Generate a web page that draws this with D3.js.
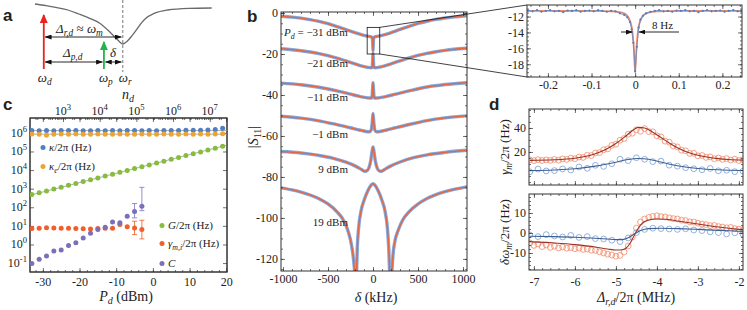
<!DOCTYPE html>
<html>
<head>
<meta charset="utf-8">
<script src="https://cdn.jsdelivr.net/npm/d3@7"></script>
<style>
body { margin: 0; background: #fff; }
svg text { font-family: "Liberation Serif", "DejaVu Serif", serif; fill: #222; }
.plbl { font-family: "Liberation Sans", Arial, sans-serif !important; font-weight: bold; font-size: 17px; }
</style>
</head>
<body>
<svg id="fig" width="747" height="310"></svg>
<script>
// ---------------- data ----------------
// a: schematic cavity dip (offset in linewidths, normalised depth)
var dipOffset = [-4, -3.5, -3, -2.5, -2, -1.5, -1.05, -0.59, -0.23, 0, 0.2, 0.45, 1.0, 1.45, 2.05, 3.0, 4.05];
var dipDepth  = [0, 0.04, 0.09, 0.15, 0.25, 0.36, 0.48, 0.7, 0.9, 1, 0.93, 0.77, 0.38, 0.23, 0.15, 0.11, 0.1];
var toneD = -3.6, toneP = -0.86, toneR = 0;

// b: |S11| traces (delta kHz, dB), offset per drive power
var pdLabels = ["\u221221 dBm", "\u221211 dBm", "\u22121 dBm", "9 dBm", "19 dBm"];
var tr31 = [[-1022,-1.6],[-900,-2.0],[-800,-2.5],[-700,-3.2],[-600,-4.1],[-500,-5.2],[-400,-6.6],[-300,-8.1],[-200,-9.6],[-120,-10.7],[-60,-11.3],[-20,-11.6],[-8,-12.2],[-4,-14],[0,-18.5],[4,-14],[8,-12.2],[20,-11.6],[60,-11.3],[120,-10.7],[200,-9.6],[300,-8.0],[400,-6.5],[500,-5.1],[600,-4.0],[700,-3.1],[800,-2.4],[900,-1.9],[1044,-1.3]];
var tr21 = [[-1022,-17.4],[-900,-17.9],[-800,-18.4],[-700,-19.0],[-600,-19.8],[-500,-20.8],[-400,-22.0],[-300,-23.4],[-200,-24.8],[-120,-25.9],[-60,-26.5],[-20,-26.7],[-8,-26],[-4,-23],[0,-19.5],[4,-23],[8,-26],[20,-26.7],[60,-26.5],[120,-25.9],[200,-24.8],[300,-23.3],[400,-21.9],[500,-20.7],[600,-19.7],[700,-18.9],[800,-18.2],[900,-17.7],[1044,-17.2]];
var tr11 = [[-1022,-34.2],[-800,-35.0],[-600,-36.2],[-400,-38.0],[-250,-39.6],[-150,-40.7],[-60,-41.4],[-20,-41.5],[-10,-40.5],[-5,-37],[0,-34],[5,-37],[10,-40.5],[20,-41.5],[60,-41.4],[150,-40.7],[250,-39.6],[400,-38.0],[600,-36.1],[800,-34.9],[1044,-34.0]];
var tr1 = [[-1022,-50.4],[-800,-51.3],[-600,-52.6],[-400,-54.5],[-250,-56.0],[-150,-57.1],[-80,-57.8],[-40,-58.0],[-20,-57],[-10,-54],[0,-49],[10,-54],[20,-57],[40,-58.0],[80,-57.8],[150,-57.1],[250,-56.0],[400,-54.4],[600,-52.5],[800,-51.2],[1044,-50.2]];
var tr9 = [[-1022,-67.6],[-800,-68.3],[-600,-69.5],[-450,-70.8],[-300,-72.8],[-200,-74.6],[-130,-76.3],[-95,-77.2],[-70,-77.0],[-45,-75.5],[-25,-72],[-10,-67.5],[0,-65.3],[10,-67.5],[25,-72],[45,-75.5],[70,-77.0],[95,-77.2],[130,-76.3],[200,-74.6],[300,-72.7],[450,-70.6],[600,-69.2],[800,-68.0],[1044,-67.0]];
var tr19 = [[-1022,-85.3],[-900,-86.3],[-800,-87.4],[-700,-88.8],[-600,-90.6],[-500,-93.2],[-400,-97.0],[-330,-101],[-280,-106],[-240,-113],[-215,-121],[-200,-130],[-195,-140],[-185,-130],[-175,-115],[-160,-105],[-130,-96],[-100,-91.5],[-60,-87],[-30,-84.5],[0,-83.3],[30,-84.5],[60,-87],[100,-91.5],[130,-96],[160,-105],[175,-115],[188,-130],[198,-140],[208,-128],[222,-118],[245,-111],[280,-106],[330,-101],[400,-97],[500,-93.2],[600,-90.5],[700,-88.6],[800,-87.2],[900,-86.1],[1044,-84.8]];

// b inset: zoom around delta = 0 (kHz)
var insetFit = [[-0.248,-11.3],[-0.1,-11.3],[-0.05,-11.35],[-0.03,-11.5],[-0.02,-11.8],[-0.012,-12.5],[-0.008,-13.3],[-0.005,-14.6],[-0.003,-16.0],[0,-19.0],[0.003,-16.0],[0.005,-14.6],[0.008,-13.3],[0.012,-12.5],[0.02,-11.8],[0.03,-11.5],[0.05,-11.35],[0.1,-11.3],[0.245,-11.3]];
var insetData = [[-0.245,-11.25],[-0.235,-11.35],[-0.225,-11.2],[-0.215,-11.4],[-0.205,-11.3],[-0.195,-11.2],[-0.185,-11.35],[-0.175,-11.3],[-0.165,-11.45],[-0.155,-11.25],[-0.145,-11.3],[-0.135,-11.2],[-0.125,-11.4],[-0.115,-11.3],[-0.105,-11.25],[-0.095,-11.35],[-0.085,-11.2],[-0.075,-11.3],[-0.065,-11.4],[-0.055,-11.3],[-0.045,-11.35],[-0.035,-11.6],[-0.025,-11.8],[-0.018,-12.1],[-0.012,-12.7],[-0.008,-13.6],[-0.004,-15.3],[0,-18.9],[0.004,-15.8],[0.008,-13.4],[0.012,-12.4],[0.018,-11.9],[0.025,-11.6],[0.035,-11.4],[0.045,-11.3],[0.055,-11.2],[0.065,-11.35],[0.075,-11.3],[0.085,-11.4],[0.095,-11.25],[0.105,-11.3],[0.115,-11.2],[0.125,-11.35],[0.135,-11.3],[0.145,-11.45],[0.155,-11.3],[0.165,-11.2],[0.175,-11.35],[0.185,-11.3],[0.195,-11.25],[0.205,-11.4],[0.215,-11.3],[0.225,-11.2],[0.235,-11.35],[0.243,-11.3]];

// c: fitted parameters vs drive power
var pAll = [-33,-31,-29,-27,-25,-23,-21,-19,-17,-15,-13,-11,-9,-7,-5,-3,-1,1,3,5,7,9,11,13,15,17,19];
var kappa = [1.35e6,1.3e6,1.35e6,1.3e6,1.35e6,1.35e6,1.35e6,1.3e6,1.3e6,1.35e6,1.3e6,1.35e6,1.3e6,1.35e6,1.35e6,1.3e6,1.35e6,1.3e6,1.35e6,1.35e6,1.35e6,1.4e6,1.4e6,1.4e6,1.45e6,1.5e6,1.75e6];
var kappaE = [0.86e6,0.85e6,0.74e6,0.85e6,0.86e6,0.85e6,0.86e6,0.85e6,0.85e6,0.86e6,0.85e6,0.85e6,0.86e6,0.85e6,0.85e6,0.86e6,0.85e6,0.85e6,0.86e6,0.85e6,0.85e6,0.86e6,0.85e6,0.86e6,0.85e6,0.86e6,0.9e6];
var gCoup = [480,600,760,950,1200,1510,1900,2400,3000,3800,4800,6000,7600,9500,12000,15100,19000,24000,30000,38000,48000,60000,76000,95000,120000,151000,190000];
var pLow = [-33,-31,-29,-27,-25,-23,-21,-19,-17,-15,-13,-11,-9,-7,-5,-3];
var coop = [0.096,0.16,0.24,0.44,0.5,0.88,1.23,2.2,4.0,6.3,8.5,16.4,14.5,33,59,113];
var gammaMi = [7.2,7.4,8.0,7.6,7.5,7.5,7.2,7.0,6.8,7.2,7.4,7.5,11.7,8.9,7.6,6.3];
var coopErr = [[-5,27,158],[-3,66,1180]];
var gammaErr = [[-5,3.4,17.8],[-3,2.0,20]];
var kappaFit = 1.33e6, kappaEFit = 0.85e6;
var gFit = [[-34,420],[20,215000]];
var ndTicks = [1e3,1e4,1e5,1e6,1e7];
var cDecades = [-1,0,1,2,3,4,5,6];

// d: mechanical linewidth and frequency shift vs detuning
var dX = [-7.1,-7.0,-6.9,-6.8,-6.7,-6.6,-6.5,-6.4,-6.3,-6.2,-6.1,-6.0,-5.9,-5.8,-5.7,-5.6,-5.5,-5.4,-5.3,-5.2,-5.1,-5.0,-4.9,-4.8,-4.7,-4.6,-4.5,-4.4,-4.3,-4.2,-4.1,-4.0,-3.9,-3.8,-3.7,-3.6,-3.5,-3.4,-3.3,-3.2,-3.1,-3.0,-2.9,-2.8,-2.7,-2.6,-2.5,-2.4,-2.3,-2.2,-2.1,-2.0,-1.9];
var gammaRed = [13.5,12.8,13.6,12.9,13.4,13.0,13.8,13.2,14.3,13.8,14.9,14.4,15.8,15.5,17.2,17.0,19.2,19.5,21.8,22.6,25.5,26.5,29.8,31.2,34.8,35.6,38.5,37.2,39.5,37.0,36.8,33.5,32.6,29.0,28.2,25.0,24.2,21.5,21.0,18.8,18.9,16.8,17.1,15.5,15.9,14.4,15.0,13.8,14.5,13.3,14.0,12.9,13.6];
var shiftRed = [-5.0,-6.2,-5.5,-6.8,-6.0,-7.2,-6.6,-7.5,-7.0,-7.6,-7.3,-7.9,-7.6,-8.2,-8.0,-8.6,-8.7,-9.4,-10.0,-10.6,-11.0,-11.6,-11.2,-9.5,-6.5,-2.0,2.5,5.5,7.0,7.8,8.3,8.6,8.2,8.0,7.6,7.2,7.0,6.4,6.2,5.6,5.5,4.9,4.5,4.2,3.7,3.8,3.2,3.0,2.6,2.8,2.2,1.9,1.6];
var dXb = [-7.1,-6.9,-6.7,-6.5,-6.3,-6.1,-5.9,-5.7,-5.5,-5.3,-5.1,-4.9,-4.7,-4.5,-4.3,-4.1,-3.9,-3.7,-3.5,-3.3,-3.1,-2.9,-2.7,-2.5,-2.3,-2.1,-1.9];
var gammaBlue = [3.5,5.8,4.2,4.5,5.9,5.0,7.5,6.4,8.9,8.0,10.2,14.0,12.8,15.2,13.9,12.0,12.4,9.0,8.2,6.9,6.0,5.2,6.3,4.3,4.8,3.6,4.0];
var shiftBlue = [-1.0,-1.8,-0.8,-1.5,-2.0,-1.2,-2.2,-1.8,-2.8,-3.0,-3.6,-4.3,-2.5,0.2,1.8,2.4,2.2,2.0,1.8,2.1,1.5,1.2,0.6,0.2,-0.5,0.1,-0.6];
var gammaRedFit = [[-7.1,13.0],[-6.5,13.5],[-6.0,14.8],[-5.75,16.2],[-5.5,18.5],[-5.25,22.0],[-5.0,27.0],[-4.75,33.5],[-4.55,39.0],[-4.45,40.5],[-4.3,40.0],[-4.1,36.5],[-3.9,32.0],[-3.7,27.5],[-3.5,23.5],[-3.25,19.8],[-3.0,17.3],[-2.75,15.6],[-2.5,14.5],[-2.25,13.8],[-1.9,13.2]];
var gammaBlueFit = [[-7.1,4.5],[-6.5,5.0],[-6.0,6.0],[-5.5,8.2],[-5.0,11.5],[-4.7,13.8],[-4.45,14.6],[-4.2,14.0],[-3.9,11.6],[-3.5,8.6],[-3.0,6.3],[-2.5,5.2],[-1.9,4.6]];
var shiftRedFit = [[-7.1,-4.3],[-6.5,-5.0],[-6.0,-5.8],[-5.5,-7.0],[-5.2,-8.0],[-5.0,-8.5],[-4.85,-8.4],[-4.75,-7.5],[-4.65,-5.0],[-4.55,-1.0],[-4.45,2.5],[-4.35,5.0],[-4.2,6.5],[-4.0,7.0],[-3.8,6.9],[-3.5,6.0],[-3.0,4.5],[-2.5,3.0],[-2.0,1.8],[-1.9,1.6]];
var shiftBlueFit = [[-7.1,-1.6],[-6.5,-1.8],[-6.0,-2.1],[-5.5,-2.6],[-5.0,-3.3],[-4.85,-3.3],[-4.7,-2.4],[-4.55,-0.5],[-4.4,1.2],[-4.2,2.2],[-3.9,2.4],[-3.5,2.2],[-3.0,1.8],[-2.5,1.3],[-2.0,0.9],[-1.9,0.8]];

// ---------------- helpers ----------------
var RED = "#e8653d";
var svg = d3.select("#fig");
var defs = svg.append("defs");

// text with italic / sub / sup parts
function rich(t, parts) {
  var shift = 0;
  parts.forEach(function(p) {
    var f = p[1] || "";
    var s = t.append("tspan").text(p[0]);
    var target = f.indexOf("_") >= 0 ? 3 : (f.indexOf("^") >= 0 ? -5 : 0);
    if (target !== shift) { s.attr("dy", target - shift); shift = target; }
    if (f.indexOf("i") >= 0) s.style("font-style", "italic");
    if (target) s.style("font-size", "0.72em");
  });
  return t;
}
function label(x, y, size, parts, anchor, rot) {
  var t = svg.append("text").attr("x", x).attr("y", y).style("font-size", size + "px");
  if (anchor) t.attr("text-anchor", anchor);
  if (rot) t.attr("transform", "rotate(-90," + x + "," + y + ")");
  return rich(t, parts);
}
function marker(id, color, len, wid) {
  defs.append("marker").attr("id", id).attr("viewBox", "0 0 10 10")
    .attr("refX", 9).attr("refY", 5).attr("markerUnits", "userSpaceOnUse")
    .attr("markerWidth", len).attr("markerHeight", wid).attr("orient", "auto-start-reverse")
    .attr("preserveAspectRatio", "none")
    .append("path").attr("d", "M0,0 L10,5 L0,10 Z").attr("fill", color);
}
marker("ahK", "#111", 7, 5);
marker("ahR", "#e8231f", 9, 8);
marker("ahG", "#23b34a", 9, 8);

// framed axes with inward ticks on all sides
function frame(x, y, o) {
  var g = svg.append("g");
  var x0 = x.range()[0], x1 = x.range()[1], yT = y.range()[1], yBt = y.range()[0];
  function put(axis, tr, vals, size, fmt, pad) {
    var s = g.append("g").attr("transform", tr)
      .call(axis.tickValues(vals).tickSizeInner(-size).tickSizeOuter(0).tickPadding(pad || 3)
        .tickFormat(fmt || function() { return ""; }));
    s.select(".domain").remove();
    s.selectAll("line").attr("stroke", "#333").attr("stroke-width", 0.7);
    s.selectAll("text").style("font-size", "12px").attr("fill", "#222");
    return s;
  }
  var fmt = function(d) { return String(d); };
  if (o.xMajor) {
    put(d3.axisBottom(x), "translate(0," + yBt + ")", o.xMajor, 4, o.xFmt === false ? null : (o.xFmt || fmt), o.xPad);
    put(d3.axisTop(x), "translate(0," + yT + ")", o.xMajor, 4);
  }
  if (o.xMinor) {
    put(d3.axisBottom(x), "translate(0," + yBt + ")", o.xMinor, 2);
    put(d3.axisTop(x), "translate(0," + yT + ")", o.xMinor, 2);
  }
  if (o.yMajor) {
    put(d3.axisLeft(y), "translate(" + x0 + ",0)", o.yMajor, 4, o.yFmt === false ? null : (o.yFmt || fmt), o.yPad);
    put(d3.axisRight(y), "translate(" + x1 + ",0)", o.yMajor, 4);
  }
  if (o.yMinor) {
    put(d3.axisLeft(y), "translate(" + x0 + ",0)", o.yMinor, 2);
    put(d3.axisRight(y), "translate(" + x1 + ",0)", o.yMinor, 2);
  }
  g.append("rect").attr("x", x0).attr("y", yT).attr("width", x1 - x0).attr("height", yBt - yT)
    .attr("fill", "none").attr("stroke", "#333").attr("stroke-width", 1);
  return g;
}
function clip(id, x, y) {
  defs.append("clipPath").attr("id", id).append("rect")
    .attr("x", x.range()[0]).attr("y", y.range()[1])
    .attr("width", x.range()[1] - x.range()[0]).attr("height", y.range()[0] - y.range()[1]);
  return "url(#" + id + ")";
}
function steps(a, b, s) { var r = []; for (var v = a; v <= b + 1e-9; v += s) r.push(+v.toFixed(4)); return r; }

// ---------------- panel a ----------------
var xA = d3.scaleLinear().domain([-4, 4.2]).range([35, 215]);
var yA = d3.scaleLinear().domain([0, 1]).range([4, 44]);
svg.append("text").attr("class", "plbl").attr("x", 3).attr("y", 21).text("a");
svg.append("path").datum(d3.zip(dipOffset, dipDepth))
  .attr("d", d3.line().x(function(d) { return xA(d[0]); }).y(function(d) { return yA(d[1]); }).curve(d3.curveMonotoneX))
  .attr("fill", "none").attr("stroke", "#6a6a6a").attr("stroke-width", 1.3);
svg.append("line").attr("x1", xA(toneR)).attr("x2", xA(toneR)).attr("y1", 0).attr("y2", 72)
  .attr("stroke", "#555").attr("stroke-width", 0.8).attr("stroke-dasharray", "3,2");
svg.append("line").attr("x1", xA(toneD)).attr("x2", xA(toneD)).attr("y1", 69).attr("y2", 15)
  .attr("stroke", "#e8231f").attr("stroke-width", 1.8).attr("marker-end", "url(#ahR)");
svg.append("line").attr("x1", xA(toneP)).attr("x2", xA(toneP)).attr("y1", 69).attr("y2", 42)
  .attr("stroke", "#23b34a").attr("stroke-width", 1.8).attr("marker-end", "url(#ahG)");
[[toneD, toneR, 37], [toneD, toneP, 62], [toneP, toneR, 62]].forEach(function(a) {
  svg.append("line").attr("x1", xA(a[0]) + 1.5).attr("x2", xA(a[1]) - 1.5).attr("y1", a[2]).attr("y2", a[2])
    .attr("stroke", "#111").attr("stroke-width", 0.9)
    .attr("marker-start", "url(#ahK)").attr("marker-end", "url(#ahK)");
});
label(56, 33, 13, [["\u0394", "i"], ["r,d", "_i"], [" \u2248 "], ["\u03C9", "i"], ["m", "_i"]]);
label(63, 57, 13, [["\u0394", "i"], ["p,d", "_i"]]);
label(110, 57, 13, [["\u03B4", "i"]]);
label(xA(toneD) - 6, 82, 13, [["\u03C9", "i"], ["d", "_i"]]);
label(xA(toneP) - 5, 82, 13, [["\u03C9", "i"], ["p", "_i"]]);
label(xA(toneR) - 4, 82, 13, [["\u03C9", "i"], ["r", "_i"]]);

// ---------------- panel c ----------------
var xC = d3.scaleLinear().domain([-33.5, 20.2]).range([30, 227]);
var yC = d3.scaleLog().domain([Math.pow(10, -1.48), Math.pow(10, 6.8)]).range([272, 118]);
var ndC = d3.scaleLog().domain([Math.pow(10, 2.1), Math.pow(10, 7.47)]).range([30, 227]);
svg.append("text").attr("class", "plbl").attr("x", 3).attr("y", 110).text("c");
frame(xC, yC, { xMajor: [-30, -20, -10, 0, 10, 20], xMinor: steps(-32, 20, 2), xPad: 5 });
var decVals = cDecades.map(function(k) { return Math.pow(10, k); });
frame(xC, yC, { yMajor: decVals, yFmt: false });
// top n_d axis
var ndMinor = [];
[2, 3, 4, 5, 6, 7].forEach(function(k) { for (var m = 1; m < 10; m++) { var v = m * Math.pow(10, k); if (v >= ndC.domain()[0] && v <= ndC.domain()[1]) ndMinor.push(v); } });
var topAx = svg.append("g").attr("transform", "translate(0,118)");
topAx.call(d3.axisTop(ndC).tickValues(ndMinor).tickSizeInner(-2).tickSizeOuter(0).tickFormat(function() { return ""; }));
topAx.append("g").call(d3.axisTop(ndC).tickValues(ndTicks).tickSizeInner(-4).tickSizeOuter(0).tickFormat(function() { return ""; }));
topAx.selectAll(".domain").remove();
topAx.selectAll("line").attr("stroke", "#333").attr("stroke-width", 0.7);
ndTicks.forEach(function(v) {
  label(ndC(v), 115, 12, [["10"], [String(Math.round(Math.log10(v))), "^"]], "middle");
});
cDecades.forEach(function(k) {
  label(27, yC(Math.pow(10, k)) + 4, 12, [["10"], [String(k), "^"]], "end");
});
label(128, 99, 14, [["n", "i"], ["d", "_i"]], "middle");
label(126, 301, 14, [["P", "i"], ["d", "_i"], [" (dBm)"]], "middle");
var gc = svg.append("g").attr("clip-path", clip("clipC", xC, yC));
gc.append("line").attr("x1", 30).attr("x2", 227).attr("y1", yC(kappaFit)).attr("y2", yC(kappaFit)).attr("stroke", "#999").attr("stroke-width", 0.8);
gc.append("line").attr("x1", 30).attr("x2", 227).attr("y1", yC(kappaEFit)).attr("y2", yC(kappaEFit)).attr("stroke", "#999").attr("stroke-width", 0.8);
gc.append("line").attr("x1", xC(gFit[0][0])).attr("x2", xC(gFit[1][0])).attr("y1", yC(gFit[0][1])).attr("y2", yC(gFit[1][1])).attr("stroke", "#999").attr("stroke-width", 0.8);
function errBars(list, color) {
  list.forEach(function(e) {
    var x = xC(e[0]);
    gc.append("line").attr("x1", x).attr("x2", x).attr("y1", yC(e[1])).attr("y2", yC(e[2])).attr("stroke", color).attr("stroke-width", 0.9);
    [e[1], e[2]].forEach(function(v) {
      gc.append("line").attr("x1", x - 2.5).attr("x2", x + 2.5).attr("y1", yC(v)).attr("y2", yC(v)).attr("stroke", color).attr("stroke-width", 0.9);
    });
  });
}
errBars(coopErr, "#8a7fc4");
errBars(gammaErr, "#ee6a3a");
function dots(xs, ys, color) {
  gc.selectAll(null).data(d3.zip(xs, ys)).enter().append("circle")
    .attr("cx", function(d) { return xC(d[0]); }).attr("cy", function(d) { return yC(d[1]); })
    .attr("r", 2.5).attr("fill", color);
}
dots(pAll, kappa, "#4f80c6");
dots(pAll, kappaE, "#eca533");
dots(pAll, gCoup, "#86bd3c");
dots(pLow, gammaMi, "#ee5f2c");
dots(pLow, coop, "#7b6fb8");
[["#4f80c6", 43, 151, [["\u03BA", "i"], ["/2\u03C0 (Hz)"]]],
 ["#eca533", 43, 170, [["\u03BA", "i"], ["e", "_i"], ["/2\u03C0 (Hz)"]]],
 ["#86bd3c", 162, 229, [["G", "i"], ["/2\u03C0 (Hz)"]]],
 ["#ee5f2c", 162, 247, [["\u03B3", "i"], ["m,i", "_i"], ["/2\u03C0 (Hz)"]]],
 ["#7b6fb8", 162, 267, [["C", "i"]]]].forEach(function(l) {
  svg.append("circle").attr("cx", l[1]).attr("cy", l[2] - 3.5).attr("r", 2.5).attr("fill", l[0]);
  label(l[1] + 6, l[2], 11, l[3]);
});

// ---------------- panel b ----------------
var xB = d3.scaleLinear().domain([-1022, 1044]).range([281, 467]);
var yB = d3.scaleLinear().domain([-125.9, 0.5]).range([271, 12]);
svg.append("text").attr("class", "plbl").attr("x", 247).attr("y", 22).text("b");
var gbc = svg.append("g").attr("clip-path", clip("clipB", xB, yB));
var lineB = d3.line().x(function(d) { return xB(d[0]); }).y(function(d) { return yB(d[1]); }).curve(d3.curveMonotoneX);
[tr31, tr21, tr11, tr1, tr9, tr19].forEach(function(t) {
  gbc.append("path").datum(t).attr("d", lineB).attr("fill", "none").attr("stroke", "#84a8dc").attr("stroke-width", 3.4);
  gbc.append("path").datum(t).attr("d", lineB).attr("fill", "none").attr("stroke", "#4f7fc4").attr("stroke-width", 1.2).attr("stroke-dasharray", "1.5,1.5").attr("opacity", 0.7);
  gbc.append("path").datum(t).attr("d", lineB).attr("fill", "none").attr("stroke", RED).attr("stroke-width", 1.3);
});
frame(xB, yB, { xMajor: [-1000, -500, 0, 500, 1000], xMinor: steps(-1000, 1000, 100),
  yMajor: [-120, -100, -80, -60, -40, -20, 0], yMinor: steps(-125, 0, 5) });
label(258, 137, 14, [["|"], ["S", "i"], ["11", "_"], ["|"]], "middle", true);
label(376, 302, 14, [["\u03B4", "i"], [" (kHz)"]], "middle");
var pdLab = svg.append("text").attr("x", 284).attr("y", 36).style("font-size", "11px").attr("fill", "#333");
rich(pdLab, [["P", "i"], ["d", "_i"], [" = \u221231 dBm"]]);
var pdY = [67, 101, 138, 173, 226];
pdLabels.forEach(function(s, i) {
  svg.append("text").attr("x", 348).attr("y", pdY[i]).attr("text-anchor", "end").style("font-size", "11px").attr("fill", "#333").text(s);
});
// zoom box and connectors
var bx0 = xB(-65), bx1 = xB(75), by0 = yB(-7), by1 = yB(-20);
svg.append("rect").attr("x", bx0).attr("y", by0).attr("width", bx1 - bx0).attr("height", by1 - by0)
  .attr("fill", "none").attr("stroke", "#111").attr("stroke-width", 0.8);

// ---------------- inset ----------------
var xI = d3.scaleLinear().domain([-0.248, 0.245]).range([527, 742]);
var yI = d3.scaleLinear().domain([-19.6, -10.55]).range([77, 5]);
svg.append("line").attr("x1", bx1).attr("y1", by0).attr("x2", 527).attr("y2", 5).attr("stroke", "#111").attr("stroke-width", 0.8);
svg.append("line").attr("x1", bx1).attr("y1", by1).attr("x2", 527).attr("y2", 77).attr("stroke", "#111").attr("stroke-width", 0.8);
svg.append("rect").attr("x", 527).attr("y", 5).attr("width", 215).attr("height", 72).attr("fill", "#fff");
var gi = svg.append("g").attr("clip-path", clip("clipI", xI, yI));
var lineI = d3.line().x(function(d) { return xI(d[0]); }).y(function(d) { return yI(d[1]); });
gi.append("path").datum(insetFit).attr("d", lineI.curve(d3.curveMonotoneX)).attr("fill", "none").attr("stroke", "#f08a66").attr("stroke-width", 1.8);
gi.append("path").datum(insetData).attr("d", d3.line().x(function(d) { return xI(d[0]); }).y(function(d) { return yI(d[1]); }))
  .attr("fill", "none").attr("stroke", "#5d8ccf").attr("stroke-width", 0.8);
gi.selectAll(null).data(insetData).enter().append("circle")
  .attr("cx", function(d) { return xI(d[0]); }).attr("cy", function(d) { return yI(d[1]); })
  .attr("r", 1.1).attr("fill", "#4f7fc4");
frame(xI, yI, { xMajor: [-0.2, -0.1, 0, 0.1, 0.2], xMinor: steps(-0.24, 0.24, 0.02),
  yMajor: [-18, -16, -14, -12], yMinor: steps(-19.5, -11, 0.5) });
svg.append("line").attr("x1", 621).attr("x2", xI(0) - 3).attr("y1", 32).attr("y2", 32)
  .attr("stroke", "#111").attr("stroke-width", 0.9).attr("marker-end", "url(#ahK)");
svg.append("line").attr("x1", 679).attr("x2", xI(0) + 4).attr("y1", 32).attr("y2", 32)
  .attr("stroke", "#111").attr("stroke-width", 0.9).attr("marker-end", "url(#ahK)");
svg.append("text").attr("x", 652).attr("y", 29).style("font-size", "11px").text("8 Hz");

// ---------------- panel d ----------------
var xD = d3.scaleLinear().domain([-7.12, -1.9]).range([529, 743]);
var yD1 = d3.scaleLinear().domain([-7.5, 55.8]).range([185, 109]);
var yD2 = d3.scaleLinear().domain([-18.5, 19.5]).range([270, 194]);
svg.append("text").attr("class", "plbl").attr("x", 489).attr("y", 110).text("d");
function panelD(y, id, redX, redY, bluX, bluY, redFit, bluFit) {
  var g = svg.append("g").attr("clip-path", clip(id, xD, y));
  g.selectAll(null).data(d3.zip(redX, redY)).enter().append("circle")
    .attr("cx", function(d) { return xD(d[0]); }).attr("cy", function(d) { return y(d[1]); })
    .attr("r", 2.9).attr("fill", "none").attr("stroke", "#f08a6a").attr("stroke-width", 0.8);
  g.selectAll(null).data(d3.zip(bluX, bluY)).enter().append("circle")
    .attr("cx", function(d) { return xD(d[0]); }).attr("cy", function(d) { return y(d[1]); })
    .attr("r", 2.9).attr("fill", "none").attr("stroke", "#7a9fd4").attr("stroke-width", 0.8);
  var ln = d3.line().x(function(d) { return xD(d[0]); }).y(function(d) { return y(d[1]); }).curve(d3.curveMonotoneX);
  g.append("path").datum(redFit).attr("d", ln).attr("fill", "none").attr("stroke", "#9a3324").attr("stroke-width", 1.1);
  g.append("path").datum(bluFit).attr("d", ln).attr("fill", "none").attr("stroke", "#3d5f92").attr("stroke-width", 1.1);
}
panelD(yD1, "clipD1", dX, gammaRed, dXb, gammaBlue, gammaRedFit, gammaBlueFit);
panelD(yD2, "clipD2", dX, shiftRed, dXb, shiftBlue, shiftRedFit, shiftBlueFit);
frame(xD, yD1, { xMajor: [-7, -6, -5, -4, -3, -2], xMinor: steps(-7, -2, 0.2), xFmt: false,
  yMajor: [20, 40], yMinor: steps(-5, 55, 5) });
frame(xD, yD2, { xMajor: [-7, -6, -5, -4, -3, -2], xMinor: steps(-7, -2, 0.2), xPad: 7,
  yMajor: [-10, 0, 10], yMinor: steps(-18, 18, 2) });
label(509, 147, 13, [["\u03B3", "i"], ["m", "_i"], ["/2\u03C0 (Hz)"]], "middle", true);
label(509, 232, 13, [["\u03B4\u03C9", "i"], ["m", "_i"], ["/2\u03C0 (Hz)"]], "middle", true);
label(636, 302, 14, [["\u0394", "i"], ["r,d", "_i"], ["/2\u03C0 (MHz)"]], "middle");
</script>
</body>
</html>
